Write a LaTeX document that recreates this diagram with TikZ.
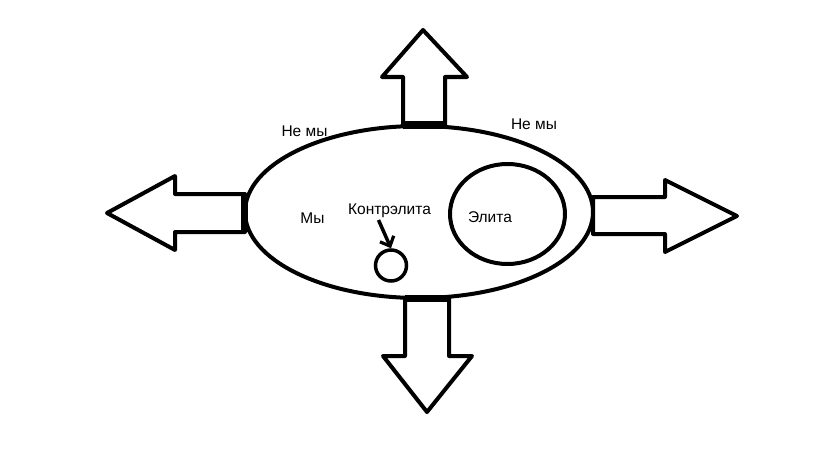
\documentclass[tikz,border=0pt]{standalone}
\usepackage{fontspec}
\setmainfont{Liberation Sans}
\usetikzlibrary{shapes.geometric,arrows.meta}
\begin{document}
\begin{tikzpicture}[x=1pt,y=-1pt,
  outline/.style={draw=black,line width=4pt,line join=round,fill=white},
  bar/.style={fill=black},
  lbl/.style={font=\fontsize{15.5}{18}\selectfont,anchor=base,inner sep=0pt,text=black},
  pointer/.style={draw=black,line width=3.5pt,-{Straight Barb[length=8pt,width=15pt,line width=3.2pt]}}]
\useasboundingbox[fill=white] (0,0) rectangle (819,460);
% arrows
\draw[outline] (403,125) -- (403,77) -- (382,77) -- (423,30) -- (467,77) -- (445,77) -- (445,125) -- cycle;
\draw[outline] (245,194) -- (175,194) -- (175,176) -- (107,213) -- (175,250) -- (175,232) -- (245,232) -- cycle;
\draw[outline] (593,197) -- (665,197) -- (665,180) -- (737,216) -- (665,252) -- (665,234) -- (593,234) -- cycle;
\draw[outline] (405,298) -- (405,356) -- (383,356) -- (427,412) -- (472,356) -- (449,356) -- (449,298) -- cycle;
% main ellipse
\node[ellipse,draw=black,line width=4pt,fill=white,inner sep=0pt,minimum width=348pt,minimum height=172pt] (main) at (419,212) {};
% bars
\fill[bar] (403,121) rectangle (445,129);
\fill[bar] (241,194) rectangle (248,232);
\fill[bar] (405,295) rectangle (449,302);
% inner circles
\node[ellipse,draw=black,line width=4pt,inner sep=0pt,minimum width=115pt,minimum height=100pt] (elite) at (507.5,214) {};
\node[circle,draw=black,line width=3.5pt,inner sep=0pt,minimum size=31pt] (small) at (391,265.5) {};
% labels
\node[lbl] (nemy1) at (304.5,136) {Не мы};
\node[lbl] (nemy2) at (534,129) {Не мы};
\node[lbl] (my) at (312.5,223) {Мы};
\node[lbl] (kontr) at (389.5,214) {Контрэлита};
\node[lbl] (elita) at (490,222) {Элита};
\coordinate (pstart) at (378.5,220);
\draw[pointer] (pstart) -- (small.north);
\end{tikzpicture}
\end{document}
